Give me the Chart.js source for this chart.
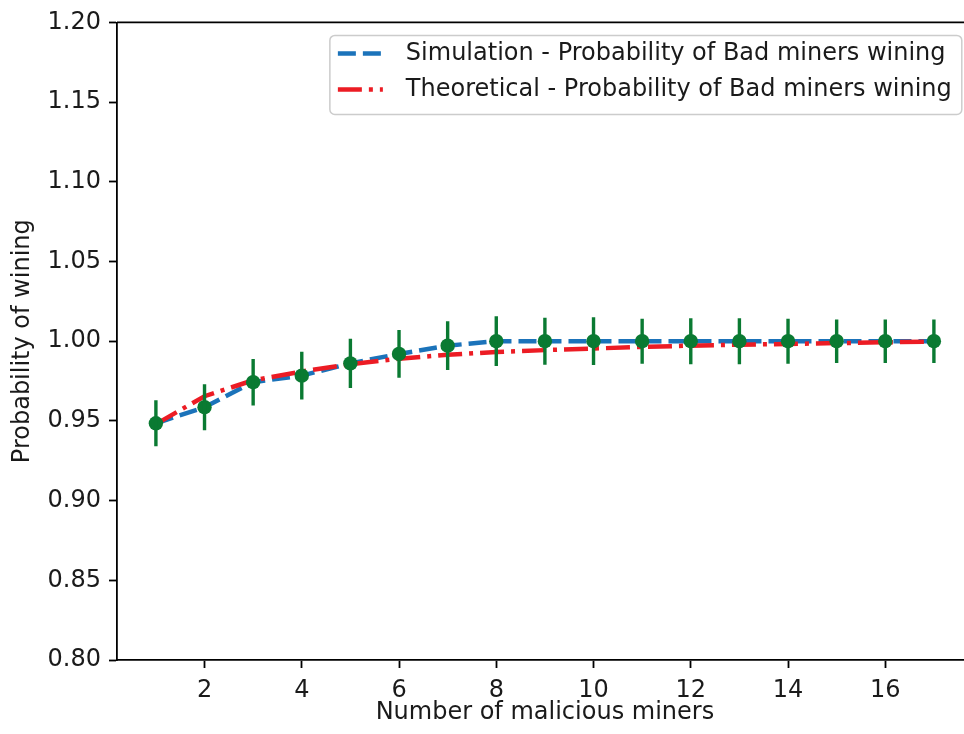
<!DOCTYPE html>
<html>
<head>
<meta charset="utf-8">
<script src="https://cdn.jsdelivr.net/npm/chart.js@4.4.1/dist/chart.umd.min.js"></script>
<style>
  html, body { margin: 0; padding: 0; background: #fff; overflow: hidden; width: 964px; height: 734px; }
  #wrap { width: 980px; height: 734px; }
</style>
</head>
<body>
<div id="wrap"><canvas id="probChart" width="980" height="734"></canvas></div>
<script>
const MINERS = [1, 2, 3, 4, 5, 6, 7, 8, 9, 10, 11, 12, 13, 14, 15, 16, 17];
const SIM_PROB = [0.9485, 0.9586, 0.9743, 0.9784, 0.9861, 0.9920, 0.9972, 1.0, 1.0, 1.0, 1.0, 1.0, 1.0, 1.0, 1.0, 1.0, 1.0];
const SIM_ERR = [0.0144, 0.0144, 0.0146, 0.0150, 0.0155, 0.0150, 0.0153, 0.0156, 0.0147, 0.0150, 0.0141, 0.0144, 0.0144, 0.0141, 0.0136, 0.0136, 0.0136];
const THEORY_PROB = [0.948, 0.9655, 0.9755, 0.981, 0.9855, 0.989, 0.9915, 0.9932, 0.9944, 0.9954, 0.9964, 0.9972, 0.9978, 0.9983, 0.9988, 0.9993, 0.9997];
const X_TICKS = [2, 4, 6, 8, 10, 12, 14, 16];
const Y_TICKS = [0.80, 0.85, 0.90, 0.95, 1.00, 1.05, 1.10, 1.15, 1.20];
const SERIES_LABELS = [
  "Simulation - Probability of Bad miners wining",
  "Theoretical - Probability of Bad miners wining",
];

const COLORS = {
  sim: "#1b73ba",
  theory: "#ec1c24",
  points: "#0a7a32",
  text: "#1a1a1a",
  frame: "#cccccc",
};
const SIM_DASH = [18, 7];
const THEORY_DASH = [24, 7, 4, 7];
const FONT = { family: "'DejaVu Sans', sans-serif", size: 24 };

// green vertical error bars around the simulated points
const errorBarPlugin = {
  id: "errorBars",
  afterDatasetsDraw(chart) {
    const { ctx, chartArea, scales } = chart;
    ctx.save();
    ctx.beginPath();
    ctx.rect(chartArea.left, chartArea.top, chartArea.right - chartArea.left, chartArea.bottom - chartArea.top);
    ctx.clip();
    ctx.strokeStyle = COLORS.points;
    ctx.lineWidth = 3.4;
    MINERS.forEach((m, i) => {
      const px = scales.x.getPixelForValue(m);
      ctx.beginPath();
      ctx.moveTo(px, scales.y.getPixelForValue(SIM_PROB[i] - SIM_ERR[i]));
      ctx.lineTo(px, scales.y.getPixelForValue(SIM_PROB[i] + SIM_ERR[i]));
      ctx.stroke();
    });
    ctx.restore();
  },
};

// top spine + matplotlib style legend box
const framePlugin = {
  id: "frame",
  afterDraw(chart) {
    const { ctx, chartArea } = chart;
    ctx.save();
    ctx.strokeStyle = "#000";
    ctx.lineWidth = 1.8;
    ctx.beginPath();
    ctx.moveTo(chartArea.left, chartArea.top);
    ctx.lineTo(chartArea.right, chartArea.top);
    ctx.stroke();

    ctx.font = FONT.size + "px " + FONT.family;
    const textW = Math.max(...SERIES_LABELS.map((t) => ctx.measureText(t).width));
    const handle = 45;
    const right = chartArea.right - 11;
    const top = chartArea.top + 13;
    const width = 8 + handle + 23 + textW + 10;
    const left = right - width;
    const height = 79;

    ctx.beginPath();
    ctx.roundRect(left, top, width, height, 5);
    ctx.fillStyle = "rgba(255,255,255,0.8)";
    ctx.fill();
    ctx.strokeStyle = COLORS.frame;
    ctx.lineWidth = 1.5;
    ctx.stroke();

    const rows = [
      { y: top + 18, color: COLORS.sim, dash: SIM_DASH },
      { y: top + 54, color: COLORS.theory, dash: THEORY_DASH },
    ];
    rows.forEach((row, i) => {
      ctx.beginPath();
      ctx.setLineDash(row.dash);
      ctx.strokeStyle = row.color;
      ctx.lineWidth = 4.5;
      ctx.moveTo(left + 8, row.y);
      ctx.lineTo(left + 8 + handle, row.y);
      ctx.stroke();
      ctx.setLineDash([]);
      ctx.fillStyle = COLORS.text;
      ctx.textBaseline = "middle";
      ctx.textAlign = "left";
      ctx.fillText(SERIES_LABELS[i], left + 8 + handle + 23, row.y);
    });
    ctx.restore();
  },
};

function toPoints(values) {
  return MINERS.map((m, i) => ({ x: m, y: values[i] }));
}

function initProbChart() {
  const canvas = document.getElementById("probChart");
  Chart.defaults.font.family = FONT.family;
  Chart.defaults.font.size = FONT.size;
  Chart.defaults.color = COLORS.text;

  new Chart(canvas, {
    type: "line",
    data: {
      datasets: [
        {
          label: SERIES_LABELS[0],
          data: toPoints(SIM_PROB),
          borderColor: COLORS.sim,
          borderWidth: 4.5,
          borderDash: SIM_DASH,
          pointRadius: 0,
          fill: false,
          tension: 0,
          order: 3,
        },
        {
          label: SERIES_LABELS[1],
          data: toPoints(THEORY_PROB),
          borderColor: COLORS.theory,
          borderWidth: 4.5,
          borderDash: THEORY_DASH,
          pointRadius: 0,
          fill: false,
          tension: 0,
          order: 2,
        },
        {
          label: "points",
          data: toPoints(SIM_PROB),
          showLine: false,
          pointRadius: 7.2,
          pointBackgroundColor: COLORS.points,
          pointBorderWidth: 0,
          order: 1,
        },
      ],
    },
    options: {
      responsive: false,
      animation: false,
      layout: { padding: { left: 0, top: 21, right: 7, bottom: 0 } },
      plugins: {
        legend: { display: false },
        tooltip: { enabled: false },
      },
      scales: {
        x: {
          type: "linear",
          min: 0.2,
          max: 17.8,
          afterBuildTicks: (s) => { s.ticks = X_TICKS.map((v) => ({ value: v })); },
          afterFit: (s) => { s.height = 74; },
          ticks: { padding: 8, color: COLORS.text, callback: (v) => String(v) },
          grid: { drawOnChartArea: false, drawTicks: true, tickLength: 8, tickWidth: 1.8, tickColor: "#000" },
          border: { display: true, color: "#000", width: 1.8 },
          title: { display: true, text: "Number of malicious miners", color: COLORS.text, padding: { top: 0, bottom: 7 } },
        },
        y: {
          min: 0.8,
          max: 1.2,
          afterBuildTicks: (s) => { s.ticks = Y_TICKS.map((v) => ({ value: v })); },
          afterFit: (s) => { s.width = 117; },
          ticks: { padding: 8, color: COLORS.text, callback: (v) => Number(v).toFixed(2) },
          grid: { drawOnChartArea: false, drawTicks: true, tickLength: 8, tickWidth: 1.8, tickColor: "#000" },
          border: { display: true, color: "#000", width: 1.8 },
          title: { display: true, text: "Probability of wining", color: COLORS.text, padding: { top: 8, bottom: 0 } },
        },
      },
    },
    plugins: [errorBarPlugin, framePlugin],
  });
}

document.addEventListener("DOMContentLoaded", initProbChart);
</script>
</body>
</html>
